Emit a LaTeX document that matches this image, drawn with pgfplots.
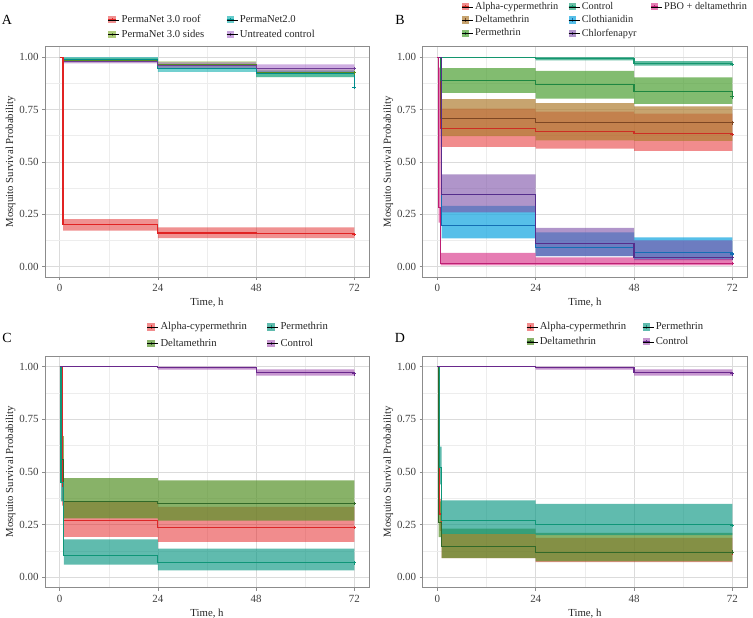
\documentclass[border=0pt]{standalone}
\usepackage{fontspec}
\setmainfont{Liberation Serif}
\usepackage{pgfplots}
\usepackage{pgfplotstable}
\pgfplotsset{compat=1.18}
\usepgfplotslibrary{fillbetween}

% panel A colours
\definecolor{aR}{RGB}{225,35,35}
\definecolor{aG}{RGB}{130,175,50}
\definecolor{aGl}{RGB}{85,140,35}
\definecolor{aT}{RGB}{0,170,170}
\definecolor{aTl}{RGB}{0,140,140}
\definecolor{aP}{RGB}{165,105,200}
\definecolor{aPl}{RGB}{110,60,150}
% panel B colours
\definecolor{bAl}{RGB}{228,26,28}
\definecolor{bAll}{RGB}{205,45,35}
\definecolor{bDe}{RGB}{175,125,50}
\definecolor{bDel}{RGB}{125,70,35}
\definecolor{bPe}{RGB}{77,160,51}
\definecolor{bPel}{RGB}{30,135,65}
\definecolor{bCo}{RGB}{27,158,119}
\definecolor{bCol}{RGB}{20,150,110}
\definecolor{bCl}{RGB}{30,170,225}
\definecolor{bCll}{RGB}{20,110,180}
\definecolor{bCh}{RGB}{123,79,166}
\definecolor{bChl}{RGB}{85,45,140}
\definecolor{bPb}{RGB}{217,54,138}
\definecolor{bPbl}{RGB}{190,30,115}
% panels C and D colours
\definecolor{cAl}{RGB}{228,26,28}
\definecolor{cAll}{RGB}{220,40,40}
\definecolor{cDe}{RGB}{85,145,40}
\definecolor{cDel}{RGB}{50,105,40}
\definecolor{cPe}{RGB}{10,150,130}
\definecolor{cPel}{RGB}{15,150,120}
\definecolor{cCo}{RGB}{160,80,175}
\definecolor{cCol}{RGB}{105,40,140}

% t, then for each group: s = survival, l/h = lower/upper confidence limit
\pgfplotstableread{
t    ros  rol   roh   sis   sil   sih   pns   pnl   pnh   uns   unl   unh
0    1    1     1     1     1     1     1     1     1     1     1     1
0.8  0.2  0.171 0.226 1     1     1     1     1     1     1     1     1
1    0.2  0.171 0.226 0.985 0.975 0.995 0.99  0.98  1     0.98  0.97  0.99
24   0.16 0.136 0.187 0.965 0.95  0.98  0.945 0.93  0.96  0.96  0.945 0.975
48   0.158 0.136 0.187 0.925 0.905 0.94 0.92  0.905 0.935 0.945 0.925 0.965
72   0.152 0.136 0.187 0.925 0.905 0.94 0.855 0.905 0.935 0.945 0.925 0.965
}\tabA

\pgfplotstableread{
t    als   all   alh   des   del   deh   pes   pel   peh   cos   col   coh   cls   cll   clh   chs   chl   chh   pbs   pbl   pbh
0    1     1     1     1     1     1     1     1     1     1     1     1     1     1     1     1     1     1     1     1     1
0.3  1     1     1     1     1     1     1     1     1     1     1     1     1     1     1     1     1     1     0.28  0.21  0.95
0.8  0.66  0.572 0.754 0.705 0.623 0.80  0.889 0.829 0.948 1     1     1     1     1     1     1     1     1     0.016 0.005 0.065
1    0.66  0.572 0.754 0.705 0.623 0.80  0.889 0.829 0.948 1     1     1     0.195 0.135 0.29  0.342 0.259 0.44  0.016 0.005 0.065
24   0.645 0.563 0.74  0.686 0.602 0.781 0.868 0.802 0.935 0.995 0.985 1     0.092 0.05  0.163 0.108 0.05  0.184 0.016 0.005 0.044
48   0.636 0.552 0.73  0.686 0.60  0.765 0.834 0.777 0.903 0.968 0.959 0.981 0.068 0.03  0.139 0.045 0.03  0.125 0.016 0.005 0.035
72   0.63  0.552 0.73  0.686 0.60  0.765 0.81  0.777 0.903 0.965 0.959 0.981 0.06  0.03  0.139 0.042 0.03  0.125 0.014 0.005 0.035
}\tabB

\pgfplotstableread{
t    als   all   alh   des   del   deh   pes   pel   peh   cos   col   coh
0    1     1     1     1     1     1     1     1     1     1     1     1
0.3  1     1     1     1     1     1     0.45  0.36  0.55  1     1     1
0.5  1     1     1     0.56  0.45  0.67  0.45  0.36  0.55  1     1     1
0.6  0.43  0.34  0.53  0.56  0.45  0.67  0.45  0.36  0.55  1     1     1
1    0.271 0.191 0.36  0.361 0.279 0.47  0.104 0.059 0.179 1     1     1
24   0.236 0.167 0.334 0.35  0.268 0.459 0.068 0.032 0.135 0.995 0.985 1
48   0.236 0.167 0.334 0.35  0.268 0.459 0.068 0.032 0.135 0.971 0.957 0.986
72   0.236 0.167 0.334 0.35  0.268 0.459 0.068 0.032 0.135 0.965 0.957 0.986
}\tabC

\pgfplotstableread{
t    als   all   alh   des   del   deh   pes   pel   peh   cos   col   coh
0    1     1     1     1     1     1     1     1     1     1     1     1
0.3  1     1     1     0.26  0.19  0.36  1     1     1     1     1     1
0.5  1     1     1     0.26  0.19  0.36  0.52  0.44  0.62  1     1     1
0.6  0.30  0.22  0.37  0.26  0.19  0.36  0.52  0.44  0.62  1     1     1
1    0.144 0.09  0.205 0.144 0.09  0.23  0.27  0.205 0.365 1     1     1
24   0.119 0.071 0.186 0.119 0.075 0.21  0.252 0.20  0.348 0.995 0.985 1
48   0.119 0.071 0.186 0.119 0.075 0.21  0.252 0.20  0.348 0.971 0.957 0.986
72   0.115 0.071 0.186 0.119 0.075 0.21  0.245 0.20  0.348 0.965 0.957 0.986
}\tabD

\newcommand{\band}[3]{%
  \addplot[const plot, draw=none, forget plot, name path=#2L] table[x=t, y=#2l] {#1};
  \addplot[const plot, draw=none, forget plot, name path=#2H] table[x=t, y=#2h] {#1};
  \addplot[draw=none, forget plot, #3] fill between[of=#2L and #2H];
}
\newcommand{\surv}[3]{%
  \addplot[const plot, forget plot, line width=1.1bp, draw=#3, mark=+, mark size=1.8bp,
    mark options={draw=#3}, mark indices={\lastrow}] table[x=t, y=#2s] {#1};
}

\pgfplotsset{
  key/.style 2 args={legend image code/.code={
    \path[draw=none, #1] (0bp,-3.6bp) rectangle (7.5bp,3.6bp);
    \path[draw=#2, line width=0.8bp] (0bp,0bp) -- (7.5bp,0bp) (3.75bp,-1.6bp) -- (3.75bp,1.6bp);
    \path (0bp,0bp) -- (11bp,0bp);}},
  km/.style={
    scale only axis, width=324bp, height=230.3bp,
    xmin=-3.6, xmax=75.6, ymin=-0.05, ymax=1.05,
    xtick={0,24,48,72}, minor xtick={12,36,60},
    ytick={0,0.25,0.5,0.75,1}, minor ytick={0.125,0.375,0.625,0.875},
    grid=both,
    major grid style={draw=black!14, line width=0.5bp},
    minor grid style={draw=black!7, line width=0.35bp},
    axis line style={draw=black!45, line width=0.6bp},
    tick align=outside, xtick pos=bottom, ytick pos=left,
    major tick length=3bp, minor tick length=0pt,
    tick style={draw=black!45, line width=0.5bp},
    yticklabel style={/pgf/number format/.cd, fixed, fixed zerofill, precision=2},
    /pgf/number format/assume math mode=true,
    ticklabel style={font=\fontsize{11}{12}\selectfont, text=black!75},
    xticklabel style={yshift=-1bp},
    xlabel={Time, h}, ylabel={Mosquito Survival Probability},
    label style={font=\fontsize{10.8}{12}\selectfont, text=black!85},
    xlabel style={at={(axis description cs:0.5,-0.111)}, anchor=center},
    ylabel style={at={(axis description cs:-0.106,0.5)}, anchor=center},
    legend style={draw=none, fill=none, font=\fontsize{10.7}{12}\selectfont,
      text=black!85, anchor=north west, inner sep=0pt,
      nodes={inner ysep=1.5bp}},
    legend cell align=left,
  },
}

\begin{document}
\begin{tikzpicture}[x=1bp,y=1bp]

% ---------------- A ----------------
\def\lastrow{6}
\begin{axis}[km, at={(45bp,341bp)}, anchor=south west,
  legend columns=2, legend style={at={(0.194,1.144)}, row sep=3bp,
    /tikz/column 2/.style={column sep=20bp}}]
\addlegendimage{key={fill=aR!50}{aR}}\addlegendentry{PermaNet 3.0 roof}
\addlegendimage{key={fill=aT!60}{aTl}}\addlegendentry{PermaNet2.0}
\addlegendimage{key={fill=aG!65}{aGl}}\addlegendentry{PermaNet 3.0 sides}
\addlegendimage{key={fill=aP!60}{aPl}}\addlegendentry{Untreated control}
\band{\tabA}{ro}{fill=aR, fill opacity=0.5}
\band{\tabA}{si}{fill=aG, fill opacity=0.55}
\band{\tabA}{pn}{fill=aT, fill opacity=0.55}
\band{\tabA}{un}{fill=aP, fill opacity=0.55}
\surv{\tabA}{si}{aGl}
\surv{\tabA}{pn}{aTl}
\surv{\tabA}{un}{aPl}
\surv{\tabA}{ro}{aR}
\end{axis}

% ---------------- B ----------------
\def\lastrow{7}
\begin{axis}[km, width=324.3bp, at={(422.7bp,341bp)}, anchor=south west,
  legend columns=3, legend style={at={(0.119,1.199)}, row sep=1.5bp,
    font=\fontsize{10.3}{12}\selectfont,
    /tikz/column 2/.style={column sep=8bp},
    /tikz/column 4/.style={column sep=12bp}}]
\addlegendimage{key={fill=bAl!50}{bAll}}\addlegendentry{Alpha-cypermethrin}
\addlegendimage{key={fill=bCo!65}{bCol}}\addlegendentry{Control}
\addlegendimage{key={fill=bPb!65}{bPbl}}\addlegendentry{PBO + deltamethrin}
\addlegendimage{key={fill=bDe!70}{bDel}}\addlegendentry{Deltamethrin}
\addlegendimage{key={fill=bCl!75}{bCll}}\addlegendentry{Clothianidin}
\addlegendimage{empty legend}\addlegendentry{}
\addlegendimage{key={fill=bPe!70}{bPel}}\addlegendentry{Permethrin}
\addlegendimage{key={fill=bCh!60}{bChl}}\addlegendentry{Chlorfenapyr}
\band{\tabB}{al}{fill=bAl, fill opacity=0.5}
\band{\tabB}{de}{fill=bDe, fill opacity=0.7}
\band{\tabB}{pe}{fill=bPe, fill opacity=0.7}
\band{\tabB}{co}{fill=bCo, fill opacity=0.7}
\band{\tabB}{cl}{fill=bCl, fill opacity=0.75}
\band{\tabB}{ch}{fill=bCh, fill opacity=0.6}
\band{\tabB}{pb}{fill=bPb, fill opacity=0.65}
\surv{\tabB}{al}{bAll}
\surv{\tabB}{de}{bDel}
\surv{\tabB}{pe}{bPel}
\surv{\tabB}{co}{bCol}
\surv{\tabB}{cl}{bCll}
\surv{\tabB}{ch}{bChl}
\surv{\tabB}{pb}{bPbl}
\end{axis}

% ---------------- C ----------------
\def\lastrow{8}
\begin{axis}[km, height=231.7bp, at={(45bp,30.3bp)}, anchor=south west,
  legend columns=2, legend style={at={(0.314,1.152)}, row sep=4.5bp,
    /tikz/column 2/.style={column sep=18bp}}]
\addlegendimage{key={fill=cAl!50}{cAll}}\addlegendentry{Alpha-cypermethrin}
\addlegendimage{key={fill=cPe!65}{cPel}}\addlegendentry{Permethrin}
\addlegendimage{key={fill=cDe!70}{cDel}}\addlegendentry{Deltamethrin}
\addlegendimage{key={fill=cCo!60}{cCol}}\addlegendentry{Control}
\band{\tabC}{al}{fill=cAl, fill opacity=0.5}
\band{\tabC}{de}{fill=cDe, fill opacity=0.7}
\band{\tabC}{pe}{fill=cPe, fill opacity=0.65}
\band{\tabC}{co}{fill=cCo, fill opacity=0.6}
\surv{\tabC}{al}{cAll}
\surv{\tabC}{de}{cDel}
\surv{\tabC}{pe}{cPel}
\surv{\tabC}{co}{cCol}
\end{axis}

% ---------------- D ----------------
\begin{axis}[km, width=324.3bp, height=231.7bp, at={(422.7bp,30.3bp)}, anchor=south west,
  legend columns=2, legend style={at={(0.3185,1.152)}, row sep=3bp,
    /tikz/column 2/.style={column sep=14bp}}]
\addlegendimage{key={fill=cAl!50}{cAll}}\addlegendentry{Alpha-cypermethrin}
\addlegendimage{key={fill=cPe!65}{cPel}}\addlegendentry{Permethrin}
\addlegendimage{key={fill=cDe!70}{cDel}}\addlegendentry{Deltamethrin}
\addlegendimage{key={fill=cCo!60}{cCol}}\addlegendentry{Control}
\band{\tabD}{al}{fill=cAl, fill opacity=0.5}
\band{\tabD}{de}{fill=cDe, fill opacity=0.7}
\band{\tabD}{pe}{fill=cPe, fill opacity=0.65}
\band{\tabD}{co}{fill=cCo, fill opacity=0.6}
\surv{\tabD}{al}{cAll}
\surv{\tabD}{de}{cDel}
\surv{\tabD}{pe}{cPel}
\surv{\tabD}{co}{cCol}
\end{axis}

\node[font=\fontsize{14}{16}\selectfont] at (7,598) {A};
\node[font=\fontsize{14}{16}\selectfont] at (400,598) {B};
\node[font=\fontsize{14}{16}\selectfont] at (7,280) {C};
\node[font=\fontsize{14}{16}\selectfont] at (400,280) {D};

\pgfresetboundingbox
\useasboundingbox (0,0) rectangle (753,618);
\end{tikzpicture}
\end{document}
